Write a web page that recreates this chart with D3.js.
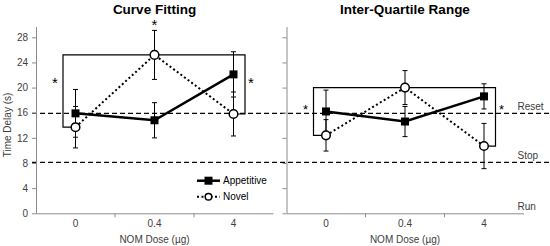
<!DOCTYPE html>
<html lang="en">
<head>
<meta charset="UTF-8">
<title>Time delay by NOM dose</title>
<script src="https://cdn.jsdelivr.net/npm/d3@7"></script>
<style>
  body { margin: 0; background: #fff; }
  svg { display: block; font-family: "Liberation Sans", Arial, sans-serif; }
</style>
</head>
<body>
<script>
// data
const doses = ["0", "0.4", "4"];
const yTicks = [0, 4, 8, 12, 16, 20, 24, 28];

const cfAppetitive = [15.9, 14.8, 22.1];
const cfAppetitiveErr = [3.8, 2.8, 3.6];
const cfNovel = [13.7, 25.2, 15.8];
const cfNovelErr = [3.3, 3.9, 3.5];

const iqrAppetitive = [16.2, 14.6, 18.6];
const iqrAppetitiveErr = [3.4, 2.4, 2.0];
const iqrNovel = [12.4, 20.0, 10.7];
const iqrNovelErr = [2.5, 2.7, 3.6];

const refLines = [15.9, 8.1];
const refLabels = ["Reset", "Stop", "Run"];
const refLabelValues = [15.9, 8.1, 0];

const width = 550, height = 246;
const svg = d3.select("body").append("svg")
    .attr("width", width)
    .attr("height", height);

const y = d3.scaleLinear()
    .domain([0, 29.7])
    .range([213.3, 213.3 - 29.7 * 6.286]);

const axisGrey = "#8c8c8c";
const textGrey = "#404040";

// dashed reference lines run from the left axis to the right edge
svg.selectAll(".ref")
    .data(refLines)
    .enter()
    .append("line")
    .attr("x1", 32)
    .attr("x2", width)
    .attr("y1", d => y(d))
    .attr("y2", d => y(d))
    .attr("stroke", "#000")
    .attr("stroke-width", 1.4)
    .attr("stroke-dasharray", "5,3");

function drawPanel(opts) {
    const x = d3.scaleBand().domain(doses).range([opts.left, opts.left + 237]);
    const cx = d => x(d) + x.bandwidth() / 2;
    const g = svg.append("g");

    // x axis
    g.append("g")
        .attr("transform", `translate(0,${y(0)})`)
        .call(d3.axisBottom(x).tickSize(0).tickPadding(7))
        .call(a => a.select(".domain").attr("stroke", axisGrey))
        .call(a => a.selectAll("text").attr("font-size", 10).attr("fill", textGrey)
            .attr("font-family", "Liberation Sans, Arial, sans-serif"));

    g.selectAll(".xtick")
        .data(doses.slice(1))
        .enter()
        .append("line")
        .attr("x1", d => x(d))
        .attr("x2", d => x(d))
        .attr("y1", y(0))
        .attr("y2", y(0) + 4)
        .attr("stroke", axisGrey);

    // y axis
    const yAxis = d3.axisLeft(y).tickValues(yTicks).tickSizeInner(4).tickSizeOuter(0).tickPadding(4);
    if (!opts.yLabels) yAxis.tickFormat("");
    g.append("g")
        .attr("transform", `translate(${opts.left},0)`)
        .call(yAxis)
        .call(a => a.select(".domain").attr("stroke", axisGrey))
        .call(a => a.selectAll("line").attr("stroke", axisGrey))
        .call(a => a.selectAll("text").attr("font-size", 10).attr("fill", textGrey)
            .attr("font-family", "Liberation Sans, Arial, sans-serif"));

    // title + axis label
    g.append("text")
        .attr("x", opts.left + 118.5)
        .attr("y", 13.5)
        .attr("text-anchor", "middle")
        .attr("font-size", 13.5)
        .attr("font-weight", "bold")
        .text(opts.title);

    g.append("text")
        .attr("x", opts.left + 118.5)
        .attr("y", 242.5)
        .attr("text-anchor", "middle")
        .attr("font-size", 10)
        .attr("fill", textGrey)
        .text("NOM Dose (µg)");

    // significance bracket: novel 0.4 vs novel 0 and novel 4
    const top = y(opts.novel[1]);
    const bl = cx(doses[0]) - 12.5;
    const br = cx(doses[2]) + 11.5;
    g.append("path")
        .attr("d", `M${cx(doses[0])},${y(opts.novel[0])}H${bl}V${top}H${br}V${y(opts.novel[2])}H${cx(doses[2])}`)
        .attr("fill", "none")
        .attr("stroke", "#000")
        .attr("stroke-width", 1.2);

    opts.stars.forEach(s => {
        g.append("text")
            .attr("x", s.side < 0 ? bl - 8 : s.side > 0 ? br + 6 : cx(doses[1]))
            .attr("y", y(s.v) + 0.55 * opts.starSize)
            .attr("text-anchor", "middle")
            .attr("font-size", opts.starSize)
            .text("*");
    });

    // error bars
    const series = [
        { mean: opts.appetitive, err: opts.appetitiveErr },
        { mean: opts.novel, err: opts.novelErr }
    ];
    series.forEach(s => {
        doses.forEach((d, i) => {
            const lo = y(s.mean[i] - s.err[i]);
            const hi = y(s.mean[i] + s.err[i]);
            g.append("path")
                .attr("d", `M${cx(d)},${lo}V${hi}M${cx(d) - 2.5},${lo}h5M${cx(d) - 2.5},${hi}h5`)
                .attr("stroke", "#000")
                .attr("stroke-width", 1)
                .attr("fill", "none");
        });
    });

    const line = d3.line().x((v, i) => cx(doses[i])).y(v => y(v));

    g.append("path")
        .attr("d", line(opts.novel))
        .attr("fill", "none")
        .attr("stroke", "#000")
        .attr("stroke-width", 2)
        .attr("stroke-dasharray", "2,2.5");

    g.append("path")
        .attr("d", line(opts.appetitive))
        .attr("fill", "none")
        .attr("stroke", "#000")
        .attr("stroke-width", 2.5);

    g.selectAll(".sq")
        .data(opts.appetitive)
        .enter()
        .append("rect")
        .attr("x", (v, i) => cx(doses[i]) - 4)
        .attr("y", v => y(v) - 4)
        .attr("width", 8)
        .attr("height", 8)
        .attr("fill", "#000");

    g.selectAll(".ci")
        .data(opts.novel)
        .enter()
        .append("circle")
        .attr("cx", (v, i) => cx(doses[i]))
        .attr("cy", v => y(v))
        .attr("r", 4.3)
        .attr("fill", "#fff")
        .attr("stroke", "#000")
        .attr("stroke-width", 1.5);
}

drawPanel({
    left: 36, title: "Curve Fitting", yLabels: true,
    appetitive: cfAppetitive, appetitiveErr: cfAppetitiveErr,
    novel: cfNovel, novelErr: cfNovelErr,
    starSize: 15,
    stars: [{ side: -1, v: 21.2 }, { side: 1, v: 21.2 }, { side: 0, v: 30.4 }]
});

drawPanel({
    left: 286.5, title: "Inter-Quartile Range", yLabels: false,
    appetitive: iqrAppetitive, appetitiveErr: iqrAppetitiveErr,
    novel: iqrNovel, novelErr: iqrNovelErr,
    starSize: 13,
    stars: [{ side: -1, v: 17.0 }, { side: 1, v: 17.0 }]
});

// y axis title
svg.append("text")
    .attr("transform", "translate(10.5,125) rotate(-90)")
    .attr("text-anchor", "middle")
    .attr("font-size", 10)
    .attr("fill", textGrey)
    .text("Time Delay (s)");

// zone labels on the right
svg.selectAll(".zone")
    .data(refLabels)
    .enter()
    .append("text")
    .attr("x", 517.5)
    .attr("y", (d, i) => y(refLabelValues[i]) - 3)
    .attr("font-size", 10)
    .attr("fill", textGrey)
    .text(d => d);

// legend
const legend = svg.append("g").attr("transform", "translate(197,180.7)");
legend.append("line").attr("x1", 0).attr("x2", 23).attr("stroke", "#000").attr("stroke-width", 2.5);
legend.append("rect").attr("x", 7.5).attr("y", -4).attr("width", 8).attr("height", 8).attr("fill", "#000");
legend.append("text").attr("x", 26).attr("y", 3.6).attr("font-size", 10).text("Appetitive");
legend.append("line").attr("x1", 0).attr("x2", 23).attr("y1", 16).attr("y2", 16)
    .attr("stroke", "#000").attr("stroke-width", 2).attr("stroke-dasharray", "2,2.5");
legend.append("circle").attr("cx", 11.5).attr("cy", 16).attr("r", 3.3)
    .attr("fill", "#fff").attr("stroke", "#000").attr("stroke-width", 1.5);
legend.append("text").attr("x", 26).attr("y", 19.6).attr("font-size", 10).text("Novel");
</script>
</body>
</html>
